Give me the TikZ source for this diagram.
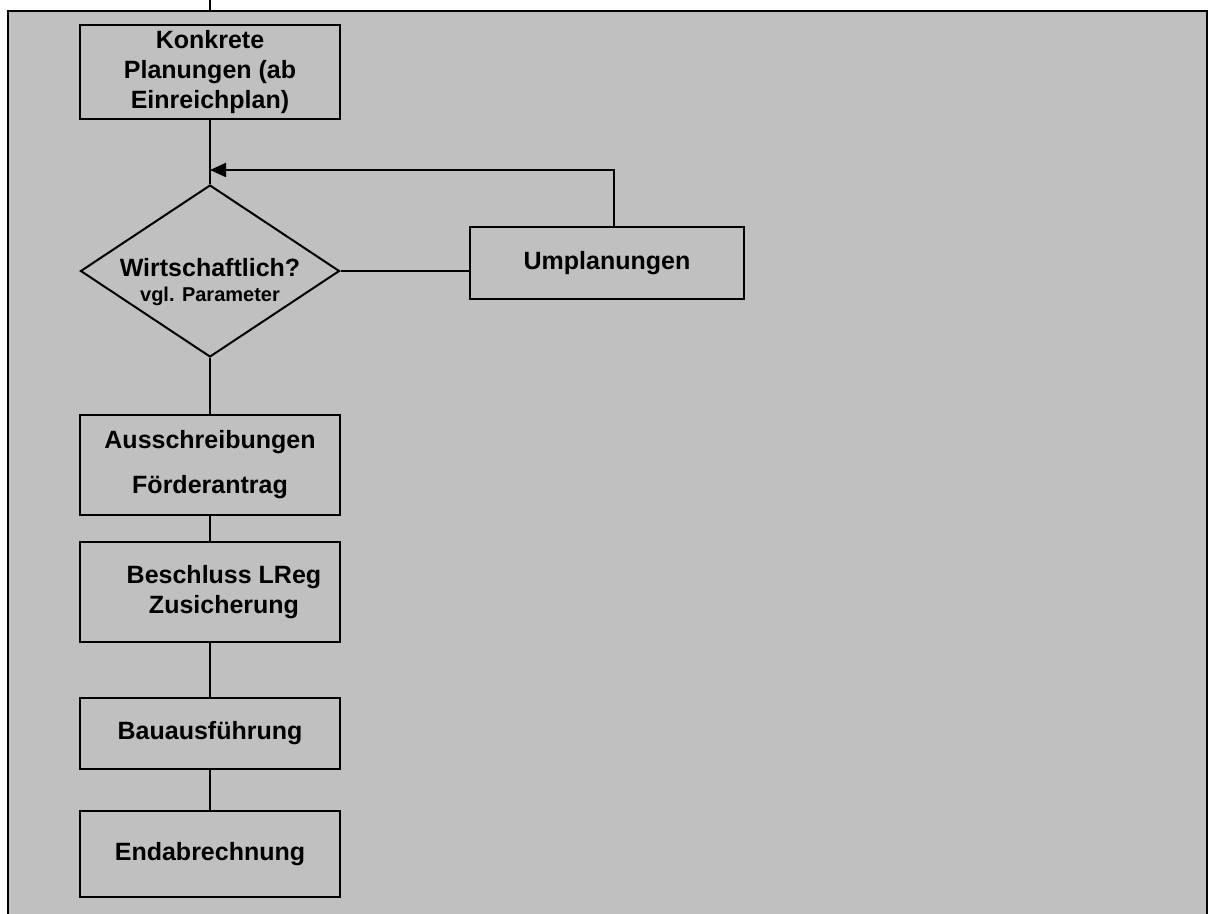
\documentclass[tikz,border=0pt]{standalone}
\usepackage{fontspec}
\setmainfont{Liberation Sans}
\usetikzlibrary{arrows.meta,shapes.geometric}
\definecolor{panelgray}{RGB}{192,192,192}
\tikzset{
  box/.style={draw, line width=2pt, align=center, inner sep=0pt, minimum width=260pt, font=\fontsize{25}{30}\selectfont\bfseries},
  decision/.style={draw, diamond, line width=2pt, inner sep=0pt, shape aspect=1.5, minimum width=259pt, minimum height=172pt},
  link/.style={line width=2pt},
  arrow/.style={-{Triangle[length=16pt,width=14pt]}, line width=2pt}
}
\begin{document}
\begin{tikzpicture}[x=1pt, y=-1pt]
  \useasboundingbox (0,0) rectangle (1214,913);
  \clip (0,0) rectangle (1214,913);
  % grey panel, open at the bottom
  \draw[line width=2pt, fill=panelgray] (8,11) rectangle (1207,940);

  \node[box, minimum height=94pt] (konk) at (210,72) {Konkrete\\Planungen (ab\\Einreichplan)};
  \node[decision, label={[yshift=-11pt, align=center, font=\fontsize{25}{25}\selectfont\bfseries]center:Wirtschaftlich?\\{\fontsize{20}{24}\selectfont vgl. Parameter}}] (dia) at (210,271) {};
  \node[box, minimum width=274pt, minimum height=72pt] (umpl) at (607,263) {Umplanungen};
  \node[box, minimum height=100pt] (aus) at (210,465) {Ausschreibungen\\[15pt]F\"orderantrag};
  \node[box, minimum height=100pt] (besch) at (210,592) {\hspace*{28pt}Beschluss LReg\\\hspace*{28pt}Zusicherung};
  \node[box, minimum height=71pt] (bau) at (210,733) {Bauausf\"uhrung};
  \node[box, minimum height=86pt] (endab) at (210,854) {Endabrechnung};

  \coordinate (intop) at (210,0);
  \coordinate (paneltop) at (210,11);
  \coordinate (join) at (210,170);

  \draw[link] (intop) -- (paneltop);
  \foreach \a/\b in {konk/dia,dia/aus,aus/besch,besch/bau,bau/endab}
    \draw[link] (\a) -- (\b);
  \draw[link] (dia.east) -- (dia.east -| umpl.west);
  \draw[arrow] ([xshift=7pt]umpl.north) |- (join);
\end{tikzpicture}
\end{document}
